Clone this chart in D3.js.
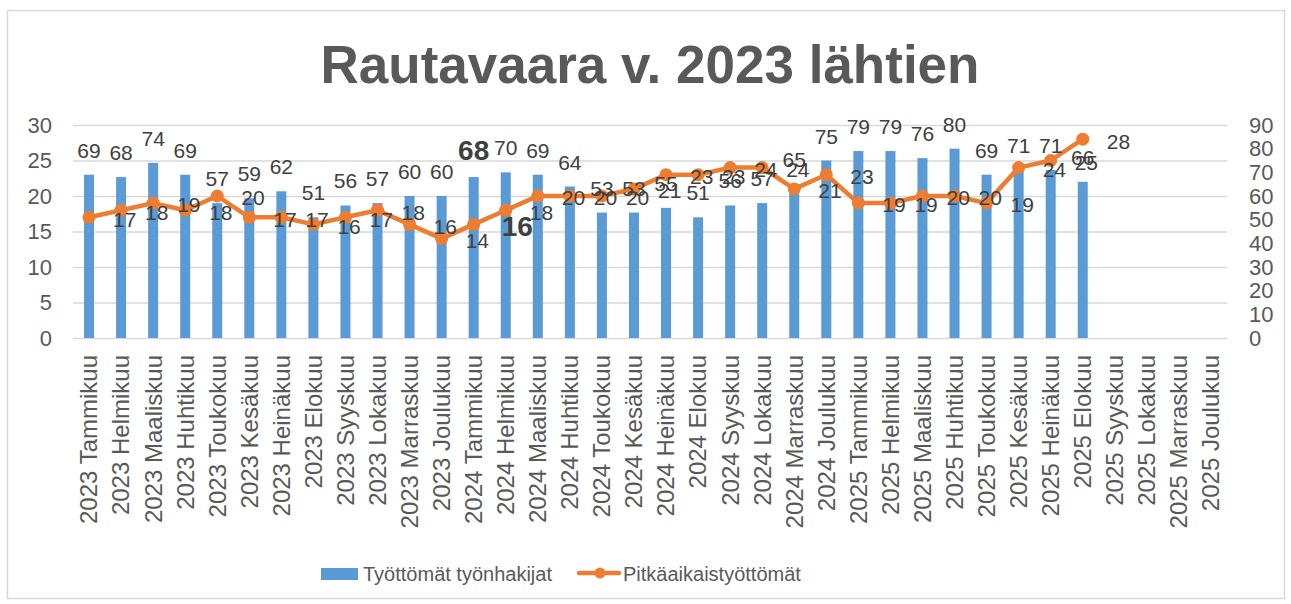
<!DOCTYPE html>
<html>
<head>
<meta charset="utf-8">
<script src="https://cdn.jsdelivr.net/npm/d3@7"></script>
<style>
  html, body { margin: 0; padding: 0; background: #ffffff; }
  svg { display: block; font-family: "Liberation Sans", Arial, sans-serif; }
</style>
</head>
<body>
<svg id="chart" width="1291" height="604"></svg>
<script>
const title = "Rautavaara v. 2023 lähtien";
const categories = [
  "2023 Tammikuu","2023 Helmikuu","2023 Maaliskuu","2023 Huhtikuu","2023 Toukokuu","2023 Kesäkuu",
  "2023 Heinäkuu","2023 Elokuu","2023 Syyskuu","2023 Lokakuu","2023 Marraskuu","2023 Joulukuu",
  "2024 Tammikuu","2024 Helmikuu","2024 Maaliskuu","2024 Huhtikuu","2024 Toukokuu","2024 Kesäkuu",
  "2024 Heinäkuu","2024 Elokuu","2024 Syyskuu","2024 Lokakuu","2024 Marraskuu","2024 Joulukuu",
  "2025 Tammikuu","2025 Helmikuu","2025 Maaliskuu","2025 Huhtikuu","2025 Toukokuu","2025 Kesäkuu",
  "2025 Heinäkuu","2025 Elokuu","2025 Syyskuu","2025 Lokakuu","2025 Marraskuu","2025 Joulukuu"
];
const seriesNames = ["Työttömät työnhakijat", "Pitkäaikaistyöttömät"];
// Työttömät työnhakijat (right axis 0-90)
const unemployed = [69,68,74,69,57,59,62,51,56,57,60,60,68,70,69,64,53,53,55,51,56,57,65,75,79,79,76,80,69,71,71,66];
// Pitkäaikaistyöttömät (left axis 0-30)
const longTerm = [17,18,19,18,20,17,17,16,17,18,16,14,16,18,20,20,20,21,23,23,24,24,21,23,19,19,20,20,19,24,25,28];
const leftTicks = [0,5,10,15,20,25,30];
const rightTicks = [0,10,20,30,40,50,60,70,80,90];
const highlightIndex = 12;

const svg = d3.select("#chart");
const W = 1291, H = 604;
const plot = { left: 73, right: 1227, top: 125, bottom: 338 };
const barColor = "#5B9BD5", lineColor = "#ED7D31";
const textColor = "#595959", labelColor = "#404040", gridColor = "#d9d9d9";

// chart border
svg.append("rect").attr("x", 7.5).attr("y", 10.5).attr("width", 1277).attr("height", 588)
  .attr("fill", "#fff").attr("stroke", gridColor).attr("stroke-width", 1.5);

// title
svg.append("text").attr("x", 650).attr("y", 83).attr("text-anchor", "middle")
  .attr("font-size", 53).attr("font-weight", "bold").attr("fill", textColor).text(title);

const x = d3.scaleBand().domain(categories).range([plot.left, plot.right]).padding(0);
const yL = d3.scaleLinear().domain([0, 30]).range([plot.bottom, plot.top]);
const yR = d3.scaleLinear().domain([0, 90]).range([plot.bottom, plot.top]);
const cx = c => x(c) + x.bandwidth() / 2;

// gridlines
const grid = svg.append("g").attr("transform", `translate(${plot.left},0)`)
  .call(d3.axisLeft(yL).tickValues(leftTicks).tickSize(-(plot.right - plot.left)).tickFormat(""));
grid.select(".domain").remove();
grid.selectAll("line").attr("stroke", gridColor).attr("stroke-width", 1.5);

// left axis
const gL = svg.append("g").attr("transform", `translate(${plot.left},0)`)
  .call(d3.axisLeft(yL).tickValues(leftTicks).tickSize(0).tickPadding(21));
gL.select(".domain").remove();
gL.selectAll("text").attr("font-size", 22).attr("fill", textColor).attr("font-family", "Liberation Sans, Arial, sans-serif");

// right axis
const gR = svg.append("g").attr("transform", `translate(${plot.right},0)`)
  .call(d3.axisRight(yR).tickValues(rightTicks).tickSize(0).tickPadding(22));
gR.select(".domain").remove();
gR.selectAll("text").attr("font-size", 22).attr("fill", textColor).attr("font-family", "Liberation Sans, Arial, sans-serif");

// x axis
const gX = svg.append("g").attr("transform", `translate(0,${plot.bottom})`)
  .call(d3.axisBottom(x).tickSize(0));
gX.select(".domain").remove();
gX.selectAll("text")
  .attr("transform", "rotate(-90)")
  .attr("x", -17).attr("y", 0).attr("dy", "0.35em")
  .style("text-anchor", "end")
  .attr("font-size", 24).attr("fill", textColor).attr("font-family", "Liberation Sans, Arial, sans-serif");

// bars
const barW = 10;
const barData = unemployed.map((v, i) => ({ c: categories[i], v, i }));
svg.append("g").selectAll("rect").data(barData).join("rect")
  .attr("x", d => cx(d.c) - barW / 2)
  .attr("y", d => yR(d.v))
  .attr("width", barW)
  .attr("height", d => yR(0) - yR(d.v))
  .attr("fill", barColor);

// line
const lineData = longTerm.map((v, i) => ({ c: categories[i], v, i }));
svg.append("path").datum(lineData)
  .attr("d", d3.line().x(d => cx(d.c)).y(d => yL(d.v)))
  .attr("fill", "none").attr("stroke", lineColor).attr("stroke-width", 4.5)
  .attr("stroke-linejoin", "round").attr("stroke-linecap", "round");
svg.append("g").selectAll("circle").data(lineData).join("circle")
  .attr("cx", d => cx(d.c)).attr("cy", d => yL(d.v)).attr("r", 6.5).attr("fill", lineColor);

// bar labels
svg.append("g").selectAll("text").data(barData).join("text")
  .attr("x", d => cx(d.c))
  .attr("y", d => yR(d.v) - 17)
  .attr("text-anchor", "middle")
  .attr("font-size", d => d.i === highlightIndex ? 28 : 21)
  .attr("font-weight", d => d.i === highlightIndex ? "bold" : "normal")
  .attr("fill", labelColor)
  .text(d => d.v);

// line labels (right of point)
svg.append("g").selectAll("text").data(lineData).join("text")
  .attr("x", d => cx(d.c) + (d.i === highlightIndex ? 28 : 24))
  .attr("y", d => yL(d.v) + 2)
  .attr("dy", "0.35em")
  .attr("text-anchor", "start")
  .attr("font-size", d => d.i === highlightIndex ? 28 : 21)
  .attr("font-weight", d => d.i === highlightIndex ? "bold" : "normal")
  .attr("fill", labelColor)
  .text(d => d.v);

// legend
const lg = svg.append("g");
lg.append("rect").attr("x", 321).attr("y", 568).attr("width", 37).attr("height", 12).attr("fill", barColor);
lg.append("text").attr("x", 363).attr("y", 574).attr("dy", "0.35em").attr("font-size", 20)
  .attr("fill", textColor).text(seriesNames[0]);
lg.append("line").attr("x1", 579).attr("x2", 619).attr("y1", 573).attr("y2", 573)
  .attr("stroke", lineColor).attr("stroke-width", 4.5).attr("stroke-linecap", "round");
lg.append("circle").attr("cx", 600).attr("cy", 573).attr("r", 5.5).attr("fill", lineColor);
lg.append("text").attr("x", 623).attr("y", 574).attr("dy", "0.35em").attr("font-size", 20)
  .attr("fill", textColor).text(seriesNames[1]);
</script>
</body>
</html>
